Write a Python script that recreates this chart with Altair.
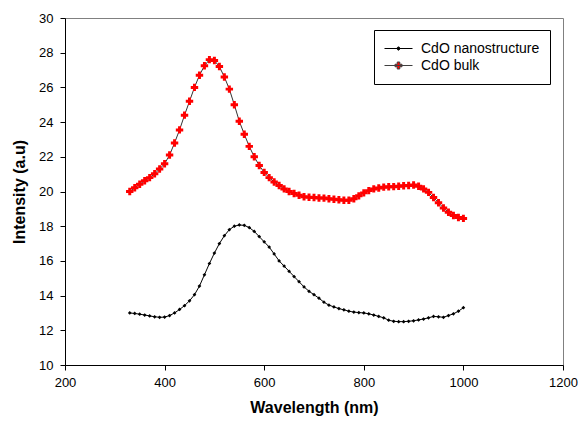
import altair as alt
import pandas as pd

wavelength = list(range(330, 1001, 10))

nano = [13.0, 12.97, 12.93, 12.88, 12.83, 12.78, 12.75, 12.76, 12.85, 13.0,
        13.2, 13.42, 13.7, 14.05, 14.55, 15.2, 15.85, 16.45, 17.0, 17.45,
        17.8, 18.0, 18.07, 18.05, 17.92, 17.7, 17.4, 17.1, 16.8, 16.4,
        16.0, 15.7, 15.4, 15.1, 14.8, 14.5, 14.25, 14.05, 13.85, 13.62,
        13.45, 13.35, 13.25, 13.18, 13.1, 13.05, 13.02, 13.0, 12.95, 12.88,
        12.8, 12.72, 12.58, 12.52, 12.5, 12.5, 12.52, 12.55, 12.6, 12.65,
        12.72, 12.8, 12.78, 12.75, 12.85, 12.95, 13.1, 13.3]

bulk = [20.0, 20.22, 20.42, 20.62, 20.8, 21.02, 21.3, 21.6, 22.1, 22.8,
        23.55, 24.4, 25.2, 26.0, 26.7, 27.25, 27.6, 27.55, 27.2, 26.6,
        25.9, 25.0, 24.05, 23.3, 22.6, 22.0, 21.5, 21.1, 20.8, 20.55,
        20.35, 20.15, 20.0, 19.88, 19.78, 19.7, 19.67, 19.65, 19.63, 19.62,
        19.58, 19.55, 19.52, 19.5, 19.5, 19.58, 19.75, 19.92, 20.05, 20.15,
        20.2, 20.25, 20.27, 20.28, 20.3, 20.33, 20.35, 20.37, 20.3, 20.15,
        19.95, 19.65, 19.35, 19.05, 18.8, 18.62, 18.5, 18.45]

series_names = ["CdO nanostructure", "CdO bulk"]
x_ticks = [200, 400, 600, 800, 1000, 1200]
y_ticks = [10, 12, 14, 16, 18, 20, 22, 24, 26, 28, 30]

rows = []
for name, vals in zip(series_names, [nano, bulk]):
    for w, v in zip(wavelength, vals):
        rows.append({"Wavelength": w, "Intensity": v, "Series": name})
df = pd.DataFrame(rows)

FONT = "Liberation Sans"

x_enc = alt.X("Wavelength:Q", scale=alt.Scale(domain=[200, 1200], nice=False),
              axis=alt.Axis(values=x_ticks, title="Wavelength (nm)", grid=False, format="d",
                            labelFlush=False, tickSize=5, labelPadding=6,
                            labelFontSize=13, titleFontSize=16, titlePadding=10,
                            labelFont=FONT, titleFont=FONT, titleFontWeight="bold",
                            domainColor="black", tickColor="black",
                            labelColor="black", titleColor="black"))
y_enc = alt.Y("Intensity:Q", scale=alt.Scale(domain=[10, 30], nice=False),
              axis=alt.Axis(values=y_ticks, title="Intensity (a.u)", grid=False, format="d",
                            tickSize=5, labelPadding=7,
                            labelFontSize=13, titleFontSize=16, titlePadding=11,
                            labelFont=FONT, titleFont=FONT, titleFontWeight="bold",
                            domainColor="black", tickColor="black",
                            labelColor="black", titleColor="black"))

base = alt.Chart(df)

nano_line = base.transform_filter(alt.datum.Series == series_names[0]).mark_line(
    strokeWidth=1, color="black").encode(x=x_enc, y=y_enc)
bulk_line = base.transform_filter(alt.datum.Series == series_names[1]).mark_line(
    strokeWidth=1, color="#333333").encode(x=x_enc, y=y_enc)
nano_pts = base.transform_filter(alt.datum.Series == series_names[0]).mark_point(
    shape="diamond", filled=True, color="black", size=14, opacity=1, strokeWidth=0).encode(x=x_enc, y=y_enc)
bulk_pts = base.transform_filter(alt.datum.Series == series_names[1]).mark_point(
    shape="cross", filled=True, color="red", size=55, opacity=1, strokeWidth=0).encode(x=x_enc, y=y_enc)

cross_path = "M-0.25,-0.09H-0.09V-0.25H0.09V-0.09H0.25V0.09H0.09V0.25H-0.09V0.09H-0.25Z"
diamond_path = "M0,-0.13L0.13,0L0,0.13L-0.13,0Z"
line_path = "M-1,0H1"

legend = alt.Legend(
    title=None, orient="none", legendX=309, legendY=12, padding=10,
    strokeColor="black", fillColor="white",
    labelFont=FONT, labelFontSize=14, labelColor="black", labelOffset=8,
    symbolSize=784, clipHeight=17, rowPadding=0, symbolStrokeWidth=1,
    symbolOpacity=1,
)

legend_layer = base.transform_filter(alt.datum.Wavelength < 0).mark_point(
    filled=True, opacity=1, strokeWidth=1, size=784).encode(
    x=x_enc, y=y_enc,
    shape=alt.Shape("Series:N", scale=alt.Scale(domain=series_names,
                    range=[line_path + diamond_path, line_path + cross_path]), legend=legend),
    fill=alt.Fill("Series:N", scale=alt.Scale(domain=series_names, range=["black", "red"]), legend=legend),
    stroke=alt.Stroke("Series:N", scale=alt.Scale(domain=series_names, range=["black", "#404040"]), legend=legend),
)

chart = alt.layer(nano_line, bulk_line, nano_pts, bulk_pts, legend_layer).properties(
    width=498, height=347,
    autosize="none",
    padding={"left": 57, "top": 10, "right": 15, "bottom": 56},
).configure_view(stroke="#808080", strokeWidth=1)

chart.save("out.html", embed_options={"renderer": "svg", "actions": False})
